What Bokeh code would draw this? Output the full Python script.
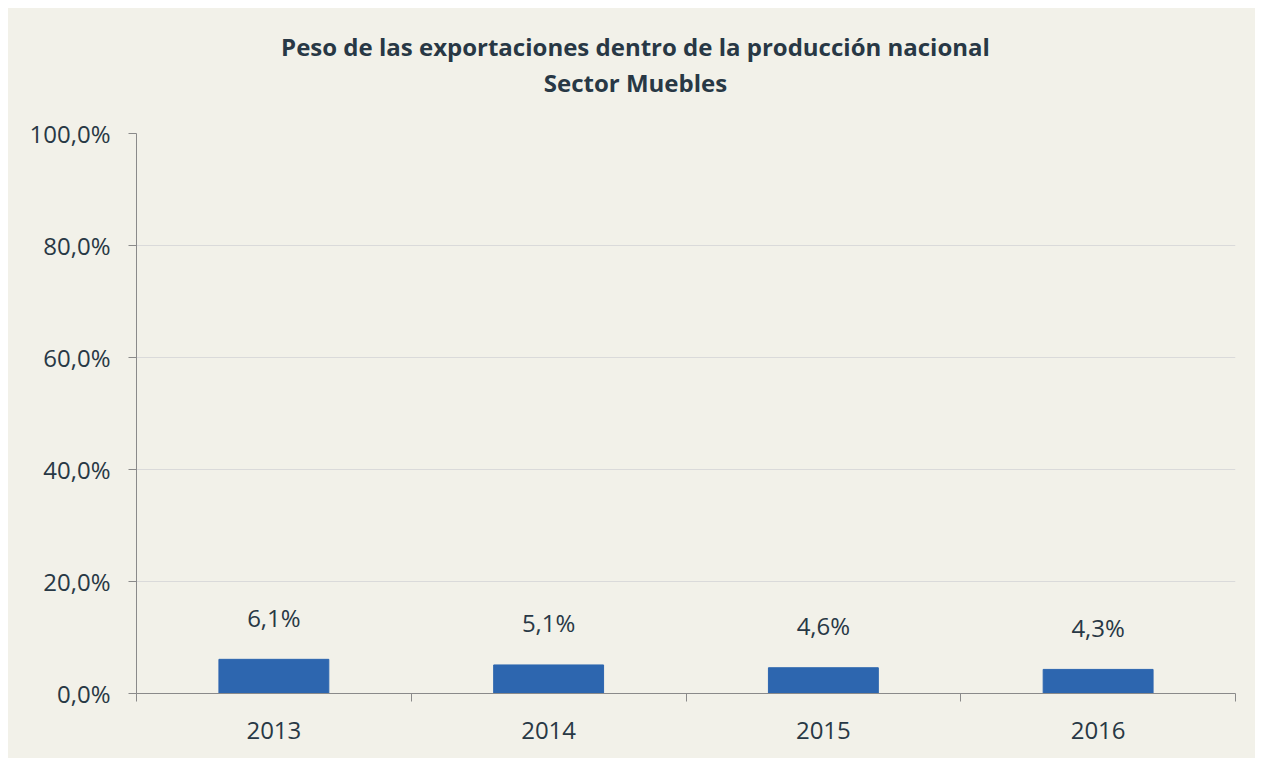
from bokeh.plotting import figure
from bokeh.models import FixedTicker, Range1d, ColumnDataSource, LabelSet, Div
from bokeh.layouts import column
from bokeh.core.properties import value
from bokeh.embed import file_html
from bokeh.resources import INLINE

years = ["2013", "2014", "2015", "2016"]
values = [6.1, 5.1, 4.6, 4.3]
labels = ["6,1%", "5,1%", "4,6%", "4,3%"]
y_ticks = [0, 20, 40, 60, 80, 100]
y_tick_labels = ["0,0%", "20,0%", "40,0%", "60,0%", "80,0%", "100,0%"]
title_lines = ["Peso de las exportaciones dentro de la producción nacional", "Sector Muebles"]

BG = "#F2F1E9"
TXT = "#283845"
AXIS = "#8A8A8A"
BAR = "#2D66AF"
FONT = "Open Sans"

xs = [i + 1 for i in range(len(years))]
src = ColumnDataSource(dict(x=xs, top=values, label=labels))

title = Div(text="<br>".join(title_lines), width=1255, height=100, margin=0,
            styles={"background-color": BG, "text-align": "center", "font-family": FONT,
                    "font-weight": "bold", "font-size": "24px", "color": TXT,
                    "line-height": "36px", "padding-top": "21px", "box-sizing": "border-box"})

p = figure(width=1255, height=650, output_backend="svg", toolbar_location=None,
           x_range=Range1d(0.5, len(years) + 0.5), y_range=Range1d(0, 100),
           min_border_left=128, min_border_right=28, min_border_top=25, min_border_bottom=65)
p.background_fill_color = BG
p.border_fill_color = BG
p.outline_line_color = None

p.vbar(x="x", top="top", width=0.4, bottom=0, source=src, fill_color=BAR, line_color=BAR)

ls = LabelSet(x="x", y="top", text="label", source=src, text_align="center",
              text_baseline="middle", y_offset=42, text_font=value(FONT),
              text_font_size="24px", text_color=TXT)
p.add_layout(ls)

# x axis
p.xaxis.ticker = FixedTicker(ticks=xs, minor_ticks=[i + 0.5 for i in range(len(years) + 1)])
p.xaxis.major_label_overrides = {x: y for x, y in zip(xs, years)}
p.xaxis.major_tick_out = 0
p.xaxis.major_tick_in = 0
p.xaxis.minor_tick_out = 8
p.xaxis.minor_tick_in = 0
p.xaxis.minor_tick_line_color = AXIS
p.xaxis.axis_line_color = AXIS
p.xaxis.major_label_text_font = FONT
p.xaxis.major_label_text_font_size = "24px"
p.xaxis.major_label_text_color = TXT
p.xaxis.major_label_standoff = 20

# y axis
p.yaxis.ticker = FixedTicker(ticks=y_ticks, minor_ticks=[])
p.yaxis.major_label_overrides = {v: s for v, s in zip(y_ticks, y_tick_labels)}
p.yaxis.major_tick_out = 8
p.yaxis.major_tick_in = 0
p.yaxis.major_tick_line_color = AXIS
p.yaxis.axis_line_color = AXIS
p.yaxis.major_label_text_font = FONT
p.yaxis.major_label_text_font_size = "24px"
p.yaxis.major_label_text_color = TXT
p.yaxis.major_label_standoff = 18

p.xgrid.grid_line_color = None
p.ygrid.grid_line_color = "#DADADA"
p.ygrid.grid_line_width = 1

layout = column(title, p, spacing=0, margin=0,
                styles={"outline": "1px solid #DCDCDC", "background-color": BG})

html = file_html(layout, INLINE)
html = html.replace("<body>", "<body style=\"margin:8px; overflow:hidden\">")
open("out.html", "w").write(html)
